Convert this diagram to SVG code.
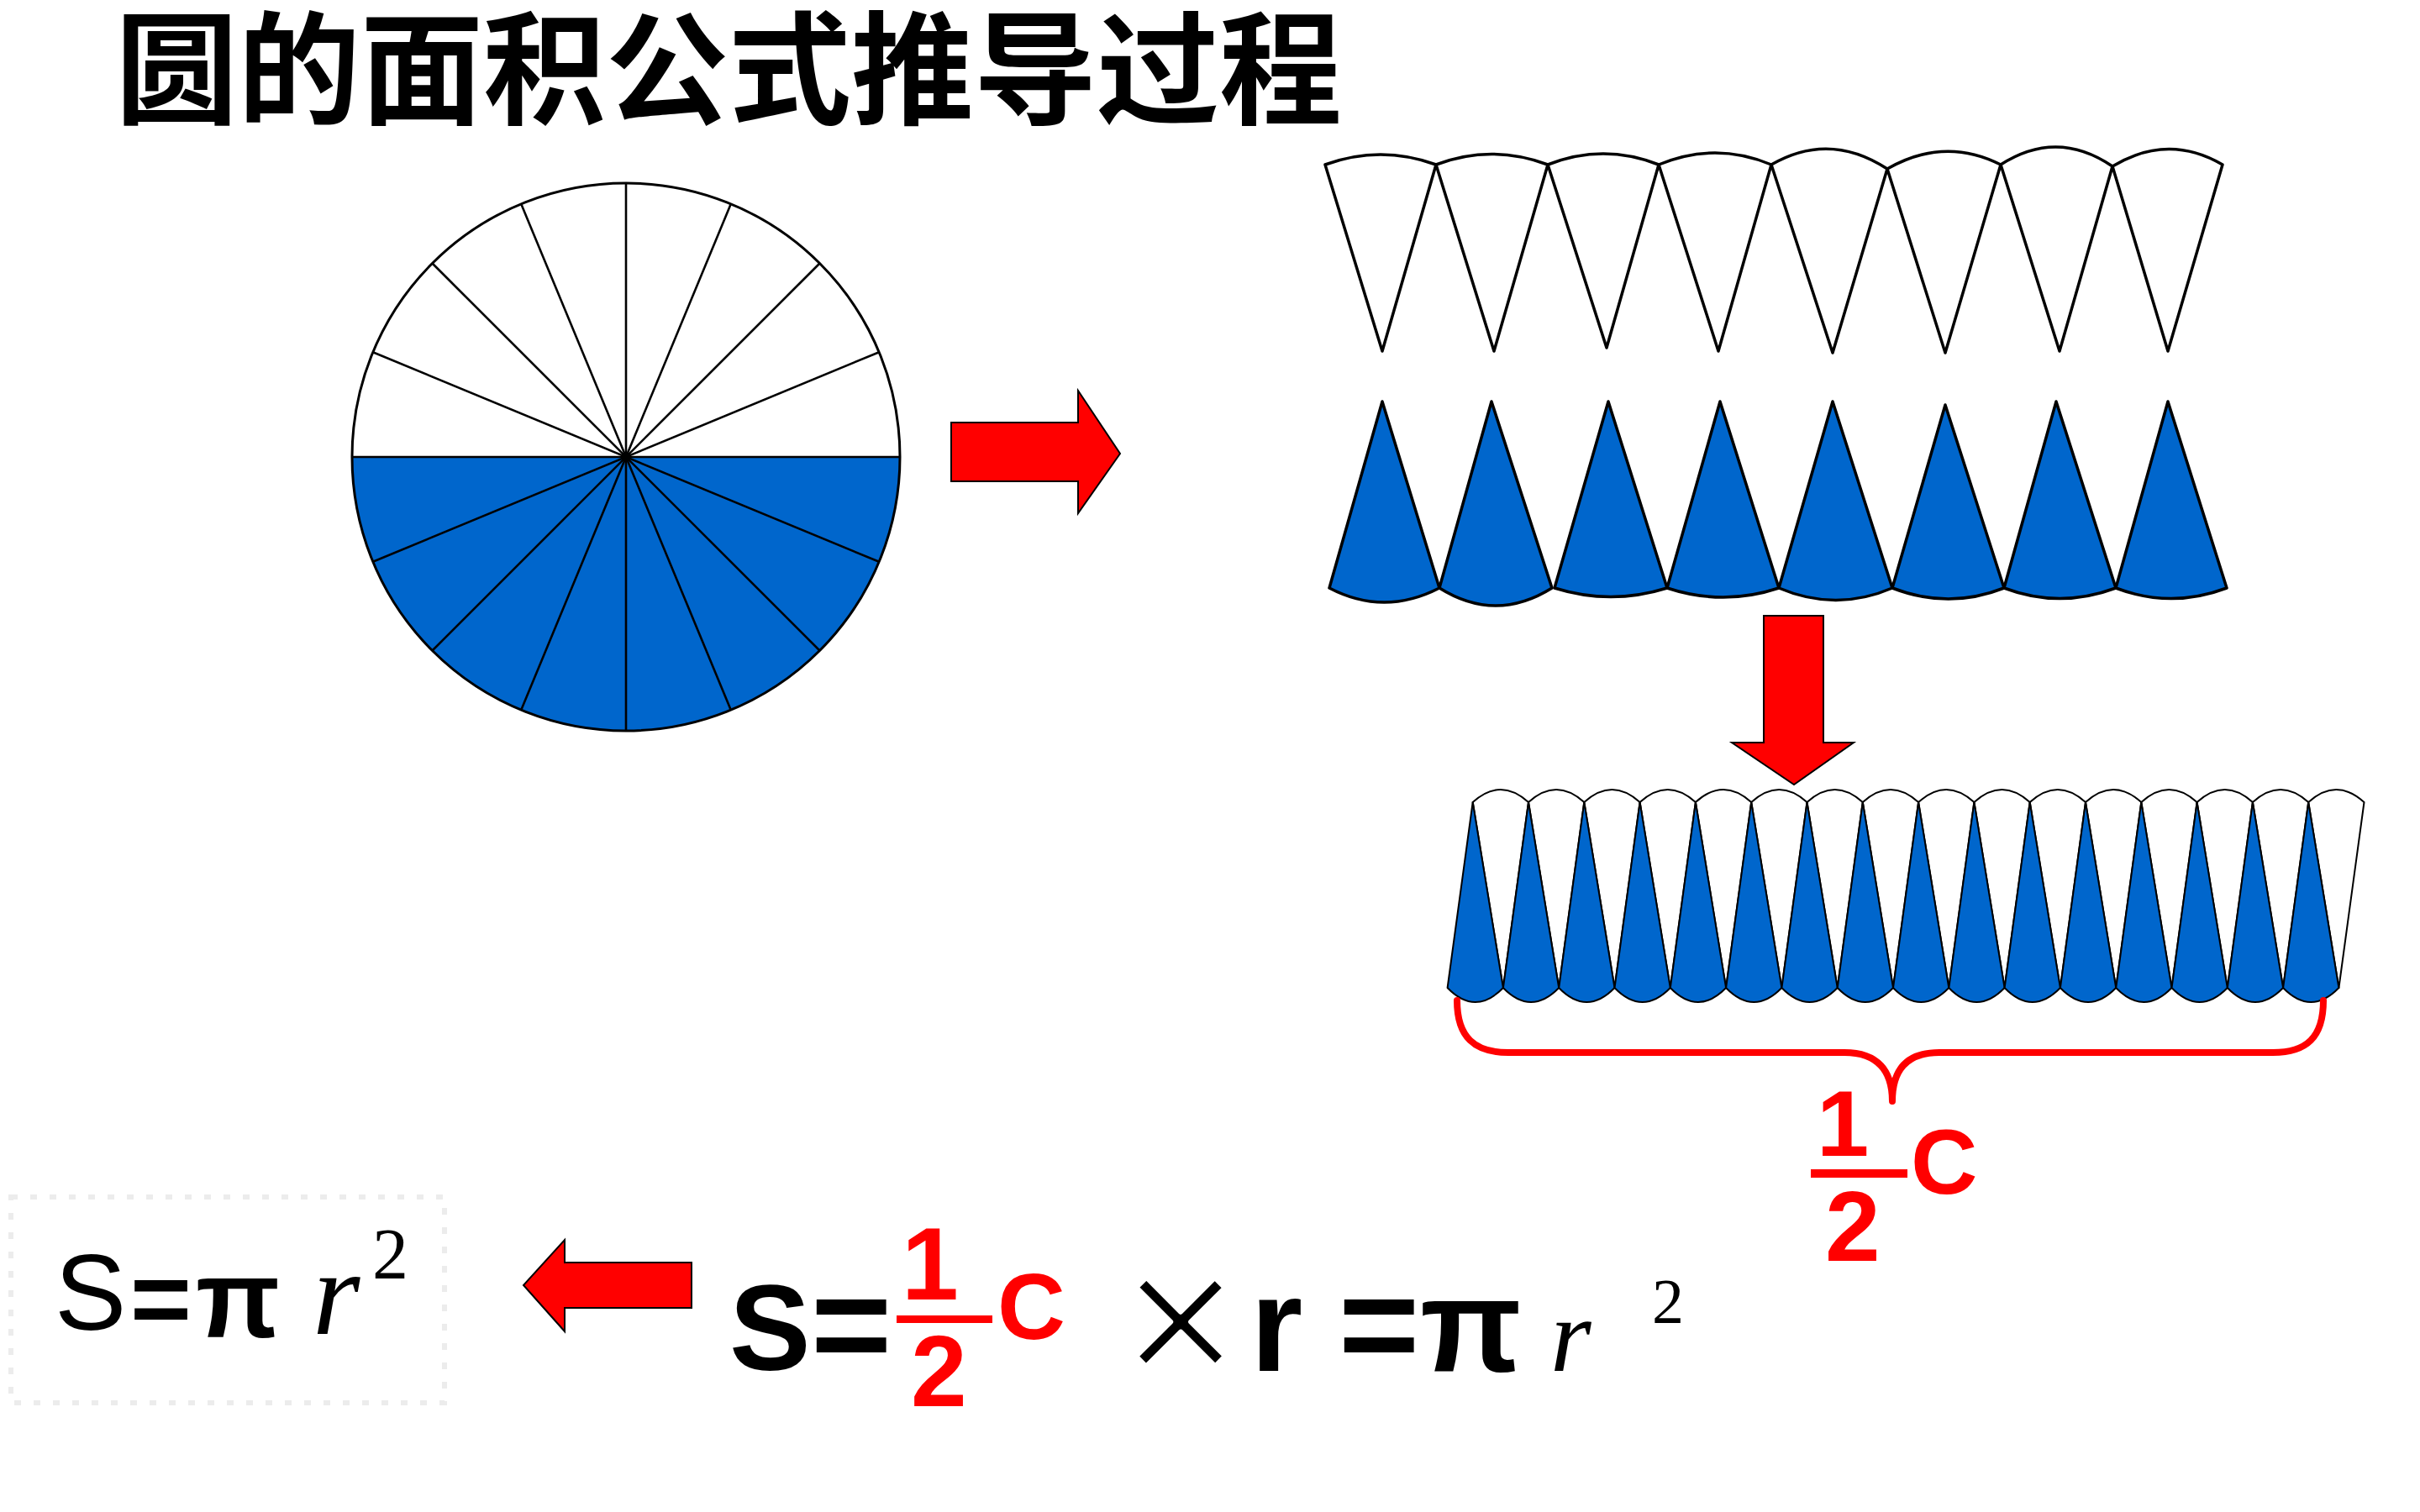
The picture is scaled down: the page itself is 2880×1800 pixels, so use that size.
<svg xmlns="http://www.w3.org/2000/svg" width="2880" height="1800" viewBox="0 0 2880 1800">
<style>
.title{font-family:"Noto Sans CJK SC","Noto Sans CJK TC",sans-serif;font-weight:700;font-size:146px;fill:#000}
.sans{font-family:"Liberation Sans",Arial,sans-serif;fill:#000}
.b{font-weight:700}
.red{fill:#FF0000}
.it{font-family:"Liberation Serif","Times New Roman",serif;font-style:italic;fill:#000}
.serif{font-family:"Liberation Serif","Times New Roman",serif;fill:#000}
.spoke{stroke:#000;stroke-width:2.6;fill:none}
.ws{fill:#fff;stroke:#000;stroke-width:3.5;stroke-linejoin:round}
.bs{fill:#0066CC;stroke:#000;stroke-width:3.5;stroke-linejoin:round}
.ws2{fill:#fff;stroke:#000;stroke-width:2;stroke-linejoin:round}
.bs2{fill:#0066CC;stroke:#000;stroke-width:2;stroke-linejoin:round}
.arrow{fill:#FF0000;stroke:#000;stroke-width:2;stroke-linejoin:miter}
</style>
<rect width="2880" height="1800" fill="#fff"/>

<g id="title">
<text class="title" x="137" y="136">圆的面积公式推导过程</text>
</g>

<g id="circle">
<circle cx="745" cy="544" r="326" fill="#fff"/>
<path d="M419,544 A326,326 0 0 0 1071,544 Z" fill="#0066CC"/>
<line class="spoke" x1="419" y1="544" x2="1071" y2="544"/>
<line class="spoke" x1="1046.2" y1="668.8" x2="443.8" y2="419.2"/>
<line class="spoke" x1="975.5" y1="774.5" x2="514.5" y2="313.5"/>
<line class="spoke" x1="869.8" y1="845.2" x2="620.2" y2="242.8"/>
<line class="spoke" x1="745" y1="870" x2="745" y2="218"/>
<line class="spoke" x1="620.2" y1="845.2" x2="869.8" y2="242.8"/>
<line class="spoke" x1="514.5" y1="774.5" x2="975.5" y2="313.5"/>
<line class="spoke" x1="443.8" y1="668.8" x2="1046.2" y2="419.2"/>
<circle cx="745" cy="544" r="326" fill="none" stroke="#000" stroke-width="3"/>
</g>

<g id="white-sectors">
<path class="ws" d="M1577,196 Q1643,172 1709,196 L1645,418 Z"/>
<path class="ws" d="M1709,196 Q1775,171 1842,196 L1778,418 Z"/>
<path class="ws" d="M1842,196 Q1908,170 1974,196 L1912,414 Z"/>
<path class="ws" d="M1974,196 Q2041,168 2108,196 L2045,418 Z"/>
<path class="ws" d="M2108,196 Q2177,156 2246,201 L2181,420 Z"/>
<path class="ws" d="M2246,201 Q2314,162 2381,196 L2315,420 Z"/>
<path class="ws" d="M2381,196 Q2448,153 2514,198 L2451,418 Z"/>
<path class="ws" d="M2514,198 Q2580,158 2645,196 L2580,418 Z"/>
</g>

<g id="blue-sectors">
<path class="bs" d="M1645,478 L1582,700 Q1647,734 1713,700 Z"/>
<path class="bs" d="M1775,478 L1713,700 Q1780,742 1847,700 Z"/>
<path class="bs" d="M1914,478 L1850,700 Q1917,721 1984,700 Z"/>
<path class="bs" d="M2047,478 L1984,700 Q2051,722 2117,700 Z"/>
<path class="bs" d="M2181,478 L2117,700 Q2185,729 2252,700 Z"/>
<path class="bs" d="M2315,482 L2252,700 Q2319,726 2385,700 Z"/>
<path class="bs" d="M2447,478 L2385,700 Q2451,725 2518,700 Z"/>
<path class="bs" d="M2580,478 L2518,700 Q2584,725 2650,700 Z"/>
</g>

<g id="rearranged">
<path class="ws2" d="M1752.7,955 Q1785.8,925 1819.0,955 L1788.9,1176 Z"/>
<path class="ws2" d="M1819.0,955 Q1852.1,925 1885.3,955 L1855.2,1176 Z"/>
<path class="ws2" d="M1885.3,955 Q1918.4,925 1951.6,955 L1921.5,1176 Z"/>
<path class="ws2" d="M1951.6,955 Q1984.7,925 2017.9,955 L1987.8,1176 Z"/>
<path class="ws2" d="M2017.9,955 Q2051.0,925 2084.2,955 L2054.1,1176 Z"/>
<path class="ws2" d="M2084.2,955 Q2117.3,925 2150.5,955 L2120.4,1176 Z"/>
<path class="ws2" d="M2150.5,955 Q2183.6,925 2216.8,955 L2186.7,1176 Z"/>
<path class="ws2" d="M2216.8,955 Q2249.9,925 2283.1,955 L2253.0,1176 Z"/>
<path class="ws2" d="M2283.1,955 Q2316.2,925 2349.4,955 L2319.3,1176 Z"/>
<path class="ws2" d="M2349.4,955 Q2382.5,925 2415.7,955 L2385.6,1176 Z"/>
<path class="ws2" d="M2415.7,955 Q2448.8,925 2482.0,955 L2451.9,1176 Z"/>
<path class="ws2" d="M2482.0,955 Q2515.1,925 2548.3,955 L2518.2,1176 Z"/>
<path class="ws2" d="M2548.3,955 Q2581.4,925 2614.6,955 L2584.5,1176 Z"/>
<path class="ws2" d="M2614.6,955 Q2647.7,925 2680.9,955 L2650.8,1176 Z"/>
<path class="ws2" d="M2680.9,955 Q2714.0,925 2747.2,955 L2717.1,1176 Z"/>
<path class="ws2" d="M2747.2,955 Q2780.3,925 2813.5,955 L2783.4,1176 Z"/>
<path class="bs2" d="M1752.7,955 L1722.6,1176 Q1755.7,1210 1788.9,1176 Z"/>
<path class="bs2" d="M1819.0,955 L1788.9,1176 Q1822.0,1210 1855.2,1176 Z"/>
<path class="bs2" d="M1885.3,955 L1855.2,1176 Q1888.3,1210 1921.5,1176 Z"/>
<path class="bs2" d="M1951.6,955 L1921.5,1176 Q1954.6,1210 1987.8,1176 Z"/>
<path class="bs2" d="M2017.9,955 L1987.8,1176 Q2020.9,1210 2054.1,1176 Z"/>
<path class="bs2" d="M2084.2,955 L2054.1,1176 Q2087.2,1210 2120.4,1176 Z"/>
<path class="bs2" d="M2150.5,955 L2120.4,1176 Q2153.5,1210 2186.7,1176 Z"/>
<path class="bs2" d="M2216.8,955 L2186.7,1176 Q2219.8,1210 2253.0,1176 Z"/>
<path class="bs2" d="M2283.1,955 L2253.0,1176 Q2286.1,1210 2319.3,1176 Z"/>
<path class="bs2" d="M2349.4,955 L2319.3,1176 Q2352.4,1210 2385.6,1176 Z"/>
<path class="bs2" d="M2415.7,955 L2385.6,1176 Q2418.7,1210 2451.9,1176 Z"/>
<path class="bs2" d="M2482.0,955 L2451.9,1176 Q2485.0,1210 2518.2,1176 Z"/>
<path class="bs2" d="M2548.3,955 L2518.2,1176 Q2551.3,1210 2584.5,1176 Z"/>
<path class="bs2" d="M2614.6,955 L2584.5,1176 Q2617.6,1210 2650.8,1176 Z"/>
<path class="bs2" d="M2680.9,955 L2650.8,1176 Q2683.9,1210 2717.1,1176 Z"/>
<path class="bs2" d="M2747.2,955 L2717.1,1176 Q2750.2,1210 2783.4,1176 Z"/>
</g>

<g id="brace">
<path d="M1734,1191 C1734,1235 1755,1253 1795,1253 L2195,1253 C2235,1253 2252,1275 2252,1311 C2252,1275 2268,1253 2308,1253 L2705,1253 C2745,1253 2765,1235 2765,1191" fill="none" stroke="#FF0000" stroke-width="8" stroke-linecap="round" stroke-linejoin="round"/>
</g>

<g id="half-c">
<text class="sans b red" x="2162" y="1376" font-size="112">1</text>
<rect x="2155" y="1392" width="115" height="10" fill="#FF0000"/>
<text class="sans b red" x="2172" y="1501" font-size="118">2</text>
<text class="sans b red" x="2274" y="1421" font-size="110">C</text>
</g>

<g id="connectors">
<polygon class="arrow" points="1132,503 1283,503 1283,465 1333,540 1283,611 1283,573 1132,573"/>
<polygon class="arrow" points="2099,733 2170,733 2170,884 2206,884 2135,934 2061,884 2099,884"/>
<polygon class="arrow" points="823,1503 672,1503 672,1476 623,1530 672,1585 672,1557 823,1557"/>
</g>

<g id="result-formula">
<rect x="13" y="1425" width="516" height="245" fill="none" stroke="#ececec" stroke-width="6" stroke-dasharray="8 15"/>
<text class="sans" x="65" y="1583" font-size="128">S</text>
<text class="sans b" x="155" y="1589" font-size="125">=</text>
<text class="sans b" x="233" y="1592" font-size="131">π</text>
<text class="it" x="372" y="1588" font-size="145">r</text>
<text class="serif" x="443" y="1522" font-size="86">2</text>
</g>

<g id="derivation-formula">
<text class="sans b" x="868" y="1631" font-size="145">S</text>
<text class="sans b" x="965" y="1634" font-size="165">=</text>
<text class="sans b red" x="1073" y="1547" font-size="122">1</text>
<rect x="1067" y="1566" width="114" height="9" fill="#FF0000"/>
<text class="sans b red" x="1084" y="1674" font-size="120">2</text>
<text class="sans b red" x="1187" y="1594" font-size="112">C</text>
<text class="sans" x="1405" y="1653" font-size="238" text-anchor="middle" stroke="#fff" stroke-width="6" stroke-linejoin="round">×</text>
<text class="sans b" x="1488" y="1632" font-size="160">r</text>
<text class="sans b" x="1593" y="1634" font-size="165">=</text>
<text class="sans b" x="1690" y="1632" font-size="158">π</text>
<text class="it" x="1845" y="1632" font-size="125">r</text>
<text class="serif" x="1966" y="1575" font-size="76">2</text>
</g>
</svg>
